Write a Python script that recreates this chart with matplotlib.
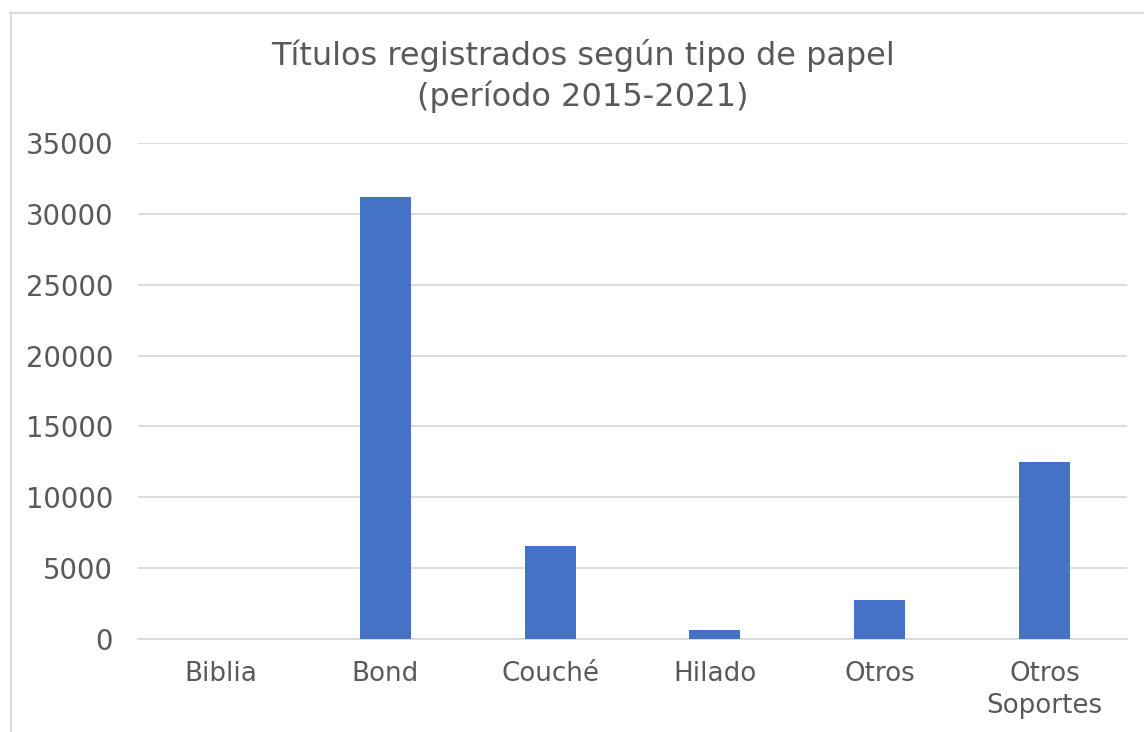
import matplotlib.pyplot as plt
import numpy as np
from matplotlib.lines import Line2D

categorias = ["Biblia", "Bond", "Couché", "Hilado", "Otros", "Otros\nSoportes"]
titulos = [0, 31200, 6560, 640, 2750, 12500]
yticks = [0, 5000, 10000, 15000, 20000, 25000, 30000, 35000]

plt.rcParams["font.family"] = ["DejaVu Sans"]
text_color = "#595959"
grid_color = "#D9D9D9"

fig = plt.figure(figsize=(11.44, 7.32), dpi=100)
ax = fig.add_axes([138 / 1144, 1 - 639 / 732, (1127 - 138) / 1144, (639 - 143) / 732])

x = np.arange(len(categorias))
ax.bar(x, titulos, width=0.31, color="#4472C4", zorder=3)

ax.set_xlim(-0.5, len(categorias) - 0.5)
ax.set_ylim(0, 35000)
ax.set_yticks(yticks)
ax.set_yticklabels([str(v) for v in yticks], fontsize=19.8)
ax.set_xticks(x)
ax.set_xticklabels(categorias, linespacing=1.3, fontsize=18.8)

ax.yaxis.grid(True, color=grid_color, linewidth=1.3, zorder=0)
ax.set_axisbelow(True)
for side in ["top", "right", "left"]:
    ax.spines[side].set_visible(False)
ax.spines["bottom"].set_color(grid_color)
ax.spines["bottom"].set_linewidth(1.3)
ax.tick_params(axis="both", length=0, labelcolor=text_color)
ax.tick_params(axis="y", pad=18)
ax.tick_params(axis="x", pad=16)

fig.text(583 / 1144, 1 - 76 / 732, "Títulos registrados según tipo de papel\n(período 2015-2021)",
         ha="center", va="center", fontsize=23, color=text_color, linespacing=1.3)

# chart border (left and top edges visible)
fig.add_artist(Line2D([10.5 / 1144, 10.5 / 1144], [0, 1 - 12 / 732],
                      transform=fig.transFigure, color=grid_color, linewidth=1.3))
fig.add_artist(Line2D([10 / 1144, 1], [1 - 12.5 / 732, 1 - 12.5 / 732],
                      transform=fig.transFigure, color=grid_color, linewidth=1.3))

fig.savefig("out.png", dpi=100)
